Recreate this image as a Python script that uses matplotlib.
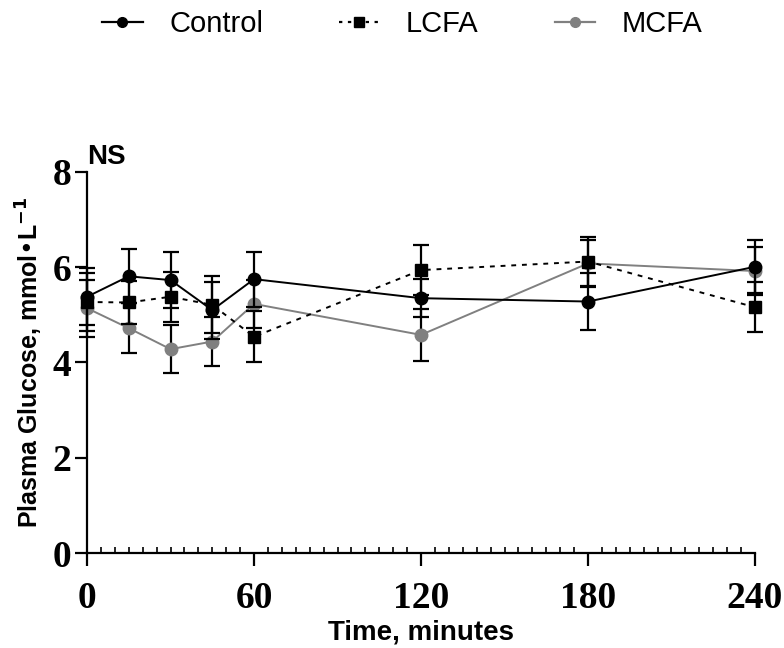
import matplotlib
matplotlib.use("Agg")
import matplotlib.pyplot as plt
from matplotlib.lines import Line2D
from matplotlib.ticker import MultipleLocator

# time points (minutes)
time = [0, 15, 30, 45, 60, 120, 180, 240]

# plasma glucose, mmol/L (mean and SEM)
control = [5.38, 5.81, 5.73, 5.10, 5.75, 5.35, 5.28, 6.01]
control_err = [0.60, 0.57, 0.58, 0.60, 0.58, 0.40, 0.59, 0.56]
lcfa = [5.27, 5.26, 5.38, 5.21, 4.54, 5.94, 6.12, 5.16]
lcfa_err = [0.60, 0.45, 0.53, 0.60, 0.54, 0.53, 0.52, 0.53]
mcfa = [5.14, 4.72, 4.28, 4.44, 5.23, 4.58, 6.08, 5.92]
mcfa_err = [0.60, 0.52, 0.50, 0.51, 0.50, 0.54, 0.50, 0.51]

xticks = [0, 60, 120, 180, 240]
yticks = [0, 2, 4, 6, 8]

fig = plt.figure(figsize=(7.84, 6.48), dpi=100)
ax = fig.add_axes([0.111, 0.1466, 0.852, 0.588])

eb = dict(ecolor="black", elinewidth=1.6, capsize=6, capthick=1.6, clip_on=False)
m = ax.errorbar(time, mcfa, yerr=mcfa_err, color="#808080", lw=1.4, marker="o",
                ms=9, zorder=3, **eb)
l = ax.errorbar(time, lcfa, yerr=lcfa_err, color="black", lw=1.4, ls=(0, (2.5, 3)),
                marker="s", ms=9, zorder=4, **eb)
c = ax.errorbar(time, control, yerr=control_err, color="black", lw=1.4, marker="o",
                ms=9, zorder=5, **eb)
for art in (m, l, c):
    art.lines[0].set_clip_on(False)

ax.set_xlim(0, 240)
ax.set_ylim(0, 8)
ax.set_xticks(xticks)
ax.set_yticks(yticks)
ax.xaxis.set_minor_locator(MultipleLocator(5))

for s in ("top", "right"):
    ax.spines[s].set_visible(False)
for s in ("left", "bottom"):
    ax.spines[s].set_linewidth(1.6)

ax.tick_params(axis="both", which="major", direction="out", length=9, width=1.6)
ax.tick_params(axis="x", which="minor", direction="in", length=4, width=1.2)

for lab in ax.get_xticklabels() + ax.get_yticklabels():
    lab.set_fontfamily("Liberation Serif")
    lab.set_fontweight("bold")
    lab.set_fontsize(27)
ax.tick_params(axis="x", pad=11)
ax.tick_params(axis="y", pad=2)

ax.set_xlabel("Time, minutes", fontsize=20, fontweight="bold",
              fontfamily="Liberation Sans", labelpad=3)
ax.set_ylabel("Plasma Glucose, mmol\u2022L$^{\\mathbf{-1}}$", fontsize=18,
              fontweight="bold", fontfamily="Liberation Sans", labelpad=6)

ax.text(0.0, 8.05, "NS", fontsize=20, fontweight="bold",
        fontfamily="Liberation Sans", ha="left", va="bottom")

handles = [
    Line2D([], [], color="black", lw=1.6, marker="o", ms=7),
    Line2D([], [], color="black", lw=1.6, ls=(0, (1.5, 2.5)), marker="s", ms=7),
    Line2D([], [], color="#808080", lw=1.6, marker="o", ms=7),
]
fig.legend(handles=handles, labels=["Control", "LCFA", "MCFA"],
           loc="upper center", bbox_to_anchor=(0.513, 1.025), ncol=3,
           frameon=False, handlelength=1.4, handletextpad=0.9, columnspacing=2.6,
           prop={"family": "Liberation Sans", "size": 21})

fig.savefig("out.png", dpi=100)
